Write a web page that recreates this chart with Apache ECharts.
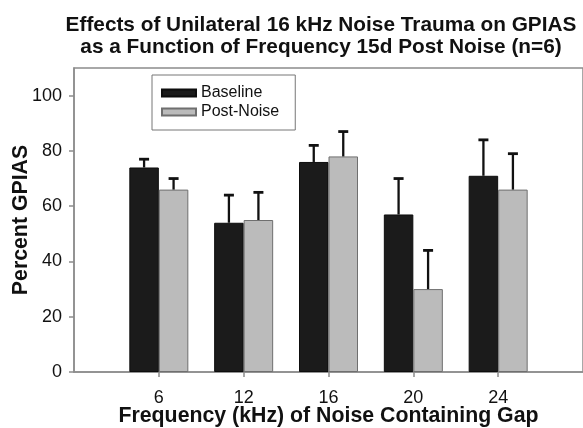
<!DOCTYPE html>
<html>
<head>
<meta charset="utf-8">
<style>
  html, body { margin: 0; padding: 0; background: #fff; }
  #chart { width: 583px; height: 428px; }
</style>
<script src="https://cdn.jsdelivr.net/npm/echarts@6/dist/echarts.min.js"></script>
</head>
<body>
<div id="chart"></div>
<script>
// Gap frequencies (kHz) and mean GPIAS (%) with upward standard-error bars
const categories = ['6', '12', '16', '20', '24'];
const baseline = [74, 54, 76, 57, 71];
const baselineErr = [3, 10, 6, 13, 13];
const postNoise = [66, 55, 78, 30, 66];
const postNoiseErr = [4, 10, 9, 14, 13];
const yTicks = [0, 20, 40, 60, 80, 100];

// The axis keeps an empty slot at each end so the groups sit inside the frame
const axisCats = [' '].concat(categories, ['  ']);
const pad = arr => ['-'].concat(arr, ['-']);

const BAR_W = 29.5;
const AXIS_COLOR = '#8c8c8c';
const FONT = 'Liberation Sans, Arial, Helvetica, sans-serif';

function errorSeries(name, values, errs, offset) {
  return {
    name: name,
    type: 'custom',
    z: 5,
    silent: true,
    data: values.map((v, i) => [i + 1, v, errs[i]]),
    encode: { x: 0, y: 1 },
    renderItem: function (params, api) {
      const x = api.value(0), v = api.value(1), e = api.value(2);
      const base = api.coord([x, v]);
      const top = api.coord([x, v + e]);
      const cx = base[0] + offset;
      return {
        type: 'group',
        children: [
          { type: 'line', shape: { x1: cx, y1: base[1], x2: cx, y2: top[1] },
            style: { stroke: '#111', lineWidth: 2.3 } },
          { type: 'line', shape: { x1: cx - 5, y1: top[1], x2: cx + 5, y2: top[1] },
            style: { stroke: '#111', lineWidth: 2.8 } }
        ]
      };
    }
  };
}

const chart = echarts.init(document.getElementById('chart'), null, { renderer: 'canvas' });
chart.setOption({
  animation: false,
  backgroundColor: '#fff',
  title: {
    text: 'Effects of Unilateral 16 kHz Noise Trauma on GPIAS\nas a Function of Frequency 15d Post Noise (n=6)',
    left: 316,
    top: 9,
    textAlign: 'center',
    textStyle: { fontFamily: FONT, fontWeight: 'bold', fontSize: 20.8, lineHeight: 22, color: '#111' }
  },
  legend: {
    data: ['Baseline', 'Post-Noise'],
    orient: 'vertical',
    left: 152,
    top: 75,
    padding: [10, 16, 10, 9],
    itemWidth: 34,
    itemHeight: 7,
    itemGap: 3,
    icon: 'rect',
    borderColor: '#777',
    borderWidth: 1,
    textStyle: { fontFamily: FONT, fontSize: 16, color: '#111' }
  },
  grid: {
    left: 74, right: 0, top: 68, bottom: 56,
    outerBoundsMode: 'none',
    containLabel: false,
    show: true, borderColor: AXIS_COLOR, borderWidth: 1.5
  },
  xAxis: {
    type: 'category',
    data: axisCats,
    boundaryGap: false,
    name: 'Frequency (kHz) of Noise Containing Gap',
    nameLocation: 'middle',
    nameGap: 34,
    nameMoveOverlap: false,
    nameTextStyle: { fontFamily: FONT, fontWeight: 'bold', fontSize: 21.3, color: '#111' },
    axisLine: { lineStyle: { color: AXIS_COLOR, width: 1.5 } },
    axisTick: {
      interval: function (i) { return i > 0 && i < axisCats.length - 1; },
      length: 5, lineStyle: { color: AXIS_COLOR, width: 1.5 }
    },
    axisLabel: {
      interval: 0, margin: 17,
      fontFamily: FONT, fontSize: 18, color: '#111'
    },
    splitLine: { show: false }
  },
  yAxis: {
    type: 'value',
    min: 0, max: 110, interval: 20,
    name: 'Percent GPIAS',
    nameLocation: 'middle',
    nameGap: 42,
    nameMoveOverlap: false,
    nameTextStyle: { fontFamily: FONT, fontWeight: 'bold', fontSize: 21.3, color: '#111' },
    axisLine: { show: true, lineStyle: { color: AXIS_COLOR, width: 1.5 } },
    axisTick: { show: true, length: 5, customValues: yTicks, lineStyle: { color: AXIS_COLOR, width: 1.5 } },
    axisLabel: { customValues: yTicks, margin: 12, fontFamily: FONT, fontSize: 18, color: '#111' },
    splitLine: { show: false }
  },
  series: [
    {
      name: 'Baseline', type: 'bar', barWidth: BAR_W, barGap: '0%',
      data: pad(baseline),
      itemStyle: { color: '#1b1b1b', borderColor: '#0d0d0d', borderWidth: 1 }
    },
    {
      name: 'Post-Noise', type: 'bar', barWidth: BAR_W, barGap: '0%',
      data: pad(postNoise),
      itemStyle: { color: '#bbbbbb', borderColor: '#6f6f6f', borderWidth: 1 }
    },
    errorSeries('Baseline SE', baseline, baselineErr, -BAR_W / 2),
    errorSeries('Post-Noise SE', postNoise, postNoiseErr, BAR_W / 2)
  ]
});
</script>
</body>
</html>
